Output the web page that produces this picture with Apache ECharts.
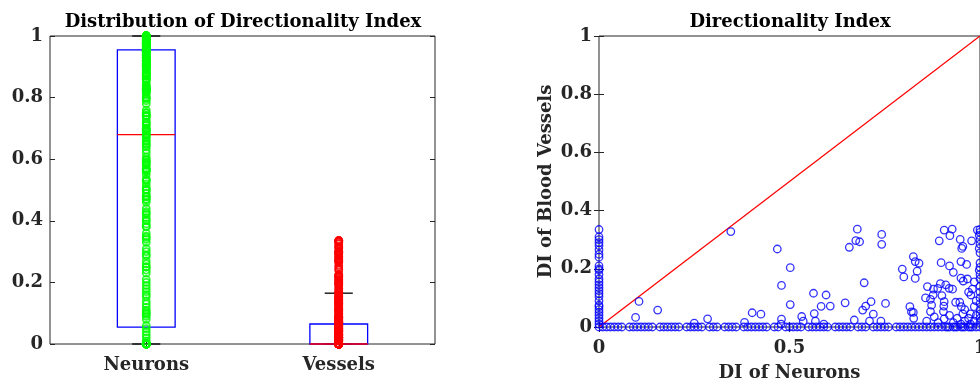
<!DOCTYPE html>
<html>
<head>
<meta charset="utf-8">
<script src="https://cdn.jsdelivr.net/npm/echarts@6/dist/echarts.min.js"></script>
<style>
  html, body { margin: 0; padding: 0; background: #ffffff; }
  #chart { width: 980px; height: 383px; }
</style>
</head>
<body>
<div id="chart"></div>
<script>
// ---------------- DATA ----------------
const categories = ['Neurons', 'Vessels'];

// Box statistics
const boxQ1        = [0.055, 0.0];
const boxMedian    = [0.68, 0.0];
const boxQ3        = [0.955, 0.065];
const whiskerLow   = [0.0, 0.0];
const whiskerHigh  = [1.0, 0.165];

// Vessel DI of cells whose neuron DI is 0 (points on the left edge)
const zeroNeuronVessels = [0.335, 0.31, 0.30, 0.29, 0.28, 0.265, 0.25, 0.24, 0.21, 0.20, 0.195,
  0.18, 0.165, 0.155, 0.145, 0.135, 0.125, 0.115, 0.105, 0.09, 0.075, 0.07, 0.06, 0.05, 0.04,
  0.03, 0.02, 0.01, 0.0];

// Neuron DI of cells whose vessel DI is 0 (points along the bottom edge)
const zeroVesselNeurons = [0.01, 0.02, 0.03, 0.04, 0.05, 0.06, 0.08, 0.09, 0.10, 0.11, 0.12, 0.13,
  0.14, 0.16, 0.17, 0.18, 0.19, 0.20, 0.21, 0.23, 0.24, 0.25, 0.26, 0.27, 0.29, 0.30, 0.31, 0.33,
  0.34, 0.35, 0.36, 0.38, 0.39, 0.40, 0.41, 0.42, 0.43, 0.44, 0.46, 0.47, 0.49, 0.50, 0.51, 0.52,
  0.53, 0.55, 0.56, 0.57, 0.58, 0.59, 0.60, 0.62, 0.63, 0.64, 0.65, 0.66, 0.68, 0.69, 0.70, 0.72,
  0.73, 0.74, 0.75, 0.76, 0.78, 0.79, 0.80, 0.81, 0.82, 0.83, 0.84, 0.85, 0.86, 0.87, 0.88, 0.89,
  0.90, 0.91, 0.915, 0.92, 0.93, 0.935, 0.94, 0.95, 0.955, 0.96, 0.97, 0.975, 0.98, 0.99, 1.0];

// Other paired points (neuron DI, vessel DI)
const pairNeuron = [0.105, 0.154, 0.096, 0.285, 0.25, 0.346, 0.382, 0.402, 0.425, 0.468, 0.502,
  0.479, 0.502, 0.479, 0.478, 0.532, 0.536, 0.563, 0.596, 0.565, 0.583, 0.607, 0.568, 0.59, 0.646,
  0.657, 0.674, 0.678, 0.684, 0.742, 0.742, 0.696, 0.692, 0.70, 0.714, 0.752, 0.72, 0.67, 0.71,
  0.74, 0.796, 0.80, 0.825, 0.83, 0.84, 0.835, 0.83, 0.816, 0.82, 0.825, 0.826, 0.862, 0.857,
  0.87, 0.878, 0.877, 0.873, 0.87, 0.88, 0.896, 0.893, 0.898, 0.906, 0.921, 0.927, 0.948, 0.952,
  0.955, 0.978, 0.993, 0.92, 0.93, 0.95, 0.965, 0.95, 0.956, 0.967, 0.889, 0.91, 0.919, 0.928,
  0.90, 0.906, 0.905, 0.936, 0.947, 0.951, 0.976, 0.904, 0.92, 0.955, 0.975, 0.906, 0.94, 0.97,
  0.96, 0.985, 0.99, 0.98, 0.985, 0.97, 0.96, 0.985, 0.93, 0.89, 0.86, 0.95, 0.975, 0.99,
  1.0, 1.0, 0.998, 1.0, 1.0, 0.998, 1.0, 1.0, 1.0, 0.998, 1.0, 1.0, 1.0, 1.0, 1.0, 1.0, 1.0,
  1.0, 1.0, 1.0];
const pairVessel = [0.088, 0.058, 0.033, 0.028, 0.013, 0.328, 0.016, 0.049, 0.044, 0.268, 0.204,
  0.143, 0.077, 0.027, 0.01, 0.036, 0.02, 0.116, 0.11, 0.046, 0.071, 0.072, 0.02, 0.01, 0.083,
  0.274, 0.297, 0.336, 0.293, 0.318, 0.284, 0.152, 0.058, 0.072, 0.087, 0.081, 0.044, 0.024, 0.02,
  0.02, 0.199, 0.172, 0.242, 0.225, 0.219, 0.192, 0.167, 0.07, 0.052, 0.05, 0.03, 0.139, 0.10,
  0.095, 0.13, 0.11, 0.075, 0.053, 0.035, 0.149, 0.296, 0.221, 0.333, 0.314, 0.336, 0.301, 0.27,
  0.277, 0.296, 0.333, 0.21, 0.188, 0.225, 0.215, 0.168, 0.158, 0.165, 0.133, 0.145, 0.133, 0.13,
  0.108, 0.087, 0.072, 0.085, 0.085, 0.07, 0.11, 0.053, 0.04, 0.045, 0.045, 0.028, 0.03, 0.03,
  0.06, 0.07, 0.09, 0.13, 0.155, 0.12, 0.02, 0.02, 0.015, 0.015, 0.02, 0.01, 0.01, 0.04,
  0.335, 0.325, 0.315, 0.30, 0.285, 0.27, 0.255, 0.22, 0.205, 0.195, 0.18, 0.165, 0.14, 0.12,
  0.10, 0.08, 0.06, 0.045, 0.03, 0.015];

// Identity line
const diagX = [0, 1];
const diagY = [0, 1];

// ---------------- BUILD ----------------
const neuronDI = [];
const vesselDI = [];
zeroNeuronVessels.forEach(v => { neuronDI.push(0); vesselDI.push(v); });
zeroVesselNeurons.forEach(n => { neuronDI.push(n); vesselDI.push(0); });
pairNeuron.forEach((n, i) => { neuronDI.push(n); vesselDI.push(pairVessel[i]); });

const boxData = categories.map((c, i) =>
  [i, boxQ1[i], boxMedian[i], boxQ3[i], whiskerLow[i], whiskerHigh[i]]);

const FONT = '"DejaVu Serif", "Liberation Serif", serif';
const INK = '#262626';
const labelStyle = { fontFamily: FONT, fontWeight: 'bold', fontSize: 18, color: INK };

const chart = echarts.init(document.getElementById('chart'), null, { renderer: 'canvas' });

const option = {
  animation: false,
  backgroundColor: '#ffffff',
  textStyle: { fontFamily: FONT },
  graphic: [
    { type: 'text', x: 243, y: 22, z: 100,
      style: { text: 'Distribution of Directionality Index', font: 'bold 18px ' + FONT,
               fill: '#000000', align: 'center', verticalAlign: 'middle' } },
    { type: 'text', x: 790, y: 22, z: 100,
      style: { text: 'Directionality Index', font: 'bold 18px ' + FONT,
               fill: '#000000', align: 'center', verticalAlign: 'middle' } }
  ],
  grid: [
    { left: 50, top: 36, width: 385, height: 308, show: true, borderColor: INK, borderWidth: 1,
      backgroundColor: 'transparent', containLabel: false, outerBoundsMode: 'none' },
    { left: 599, top: 36, width: 381, height: 291, show: true, borderColor: INK, borderWidth: 1,
      backgroundColor: 'transparent', containLabel: false, outerBoundsMode: 'none' }
  ],
  xAxis: [
    { type: 'category', gridIndex: 0, position: 'bottom', data: categories,
      axisLine: { show: false },
      axisTick: { show: true, inside: true, alignWithLabel: true, length: 5, lineStyle: { color: INK } },
      axisLabel: Object.assign({ margin: 12 }, labelStyle),
      splitLine: { show: false } },
    { type: 'category', gridIndex: 0, position: 'top', data: categories,
      axisLine: { show: false },
      axisTick: { show: true, inside: true, alignWithLabel: true, length: 5, lineStyle: { color: INK } },
      axisLabel: { show: false }, splitLine: { show: false } },
    { type: 'value', gridIndex: 1, position: 'bottom', min: 0, max: 1, interval: 0.5,
      name: 'DI of Neurons', nameLocation: 'middle', nameGap: 37,
      nameTextStyle: labelStyle,
      axisLine: { show: false },
      axisTick: { show: true, inside: true, length: 5, lineStyle: { color: INK } },
      axisLabel: Object.assign({ margin: 12, hideOverlap: false }, labelStyle),
      splitLine: { show: false } },
    { type: 'value', gridIndex: 1, position: 'top', min: 0, max: 1, interval: 0.5,
      axisLine: { show: false },
      axisTick: { show: true, inside: true, length: 5, lineStyle: { color: INK } },
      axisLabel: { show: false }, splitLine: { show: false } }
  ],
  yAxis: [
    { type: 'value', gridIndex: 0, position: 'left', min: 0, max: 1, interval: 0.2,
      axisLine: { show: false },
      axisTick: { show: true, inside: true, length: 5, lineStyle: { color: INK } },
      axisLabel: Object.assign({ margin: 7 }, labelStyle),
      splitLine: { show: false } },
    { type: 'value', gridIndex: 0, position: 'right', min: 0, max: 1, interval: 0.2,
      axisLine: { show: false },
      axisTick: { show: true, inside: true, length: 5, lineStyle: { color: INK } },
      axisLabel: { show: false }, splitLine: { show: false } },
    { type: 'value', gridIndex: 1, position: 'left', min: 0, max: 1, interval: 0.2,
      name: 'DI of Blood Vessels', nameLocation: 'middle', nameGap: 44, nameRotate: 90,
      nameTextStyle: labelStyle,
      axisLine: { show: false },
      axisTick: { show: true, inside: true, length: 5, lineStyle: { color: INK } },
      axisLabel: Object.assign({ margin: 7 }, labelStyle),
      splitLine: { show: false } },
    { type: 'value', gridIndex: 1, position: 'right', min: 0, max: 1, interval: 0.2,
      axisLine: { show: false },
      axisTick: { show: true, inside: true, length: 5, lineStyle: { color: INK } },
      axisLabel: { show: false }, splitLine: { show: false } }
  ],
  series: [
    {
      type: 'custom', xAxisIndex: 0, yAxisIndex: 0, z: 2,
      data: boxData,
      renderItem: function (params, api) {
        const idx = api.value(0);
        const band = api.size([1, 0])[0];
        const half = band * 0.15;
        const capHalf = band * 0.073;
        const pQ1 = api.coord([idx, api.value(1)]);
        const pMed = api.coord([idx, api.value(2)]);
        const pQ3 = api.coord([idx, api.value(3)]);
        const pLo = api.coord([idx, api.value(4)]);
        const pHi = api.coord([idx, api.value(5)]);
        const cx = pQ1[0];
        return {
          type: 'group',
          children: [
            { type: 'line', shape: { x1: cx - capHalf, y1: pLo[1], x2: cx + capHalf, y2: pLo[1] },
              style: { stroke: '#000000', lineWidth: 1.3 } },
            { type: 'line', shape: { x1: cx - capHalf, y1: pHi[1], x2: cx + capHalf, y2: pHi[1] },
              style: { stroke: '#000000', lineWidth: 1.3 } },
            { type: 'rect', shape: { x: cx - half, y: pQ3[1], width: 2 * half, height: pQ1[1] - pQ3[1] },
              style: { stroke: '#0000ff', fill: 'none', lineWidth: 1.3 } },
            { type: 'line', shape: { x1: cx - half, y1: pMed[1], x2: cx + half, y2: pMed[1] },
              style: { stroke: '#ff0000', lineWidth: 1.3 } }
          ]
        };
      }
    },
    {
      type: 'scatter', xAxisIndex: 0, yAxisIndex: 0, z: 5, clip: false,
      symbol: 'circle', symbolSize: 7,
      itemStyle: { color: 'rgba(0,0,0,0)', borderColor: '#00ff00', borderWidth: 1.8 },
      data: neuronDI.map(v => [0, v])
    },
    {
      type: 'scatter', xAxisIndex: 0, yAxisIndex: 0, z: 5, clip: false,
      symbol: 'circle', symbolSize: 7,
      itemStyle: { color: 'rgba(0,0,0,0)', borderColor: '#ff0000', borderWidth: 1.8 },
      data: vesselDI.map(v => [1, v])
    },
    {
      type: 'line', xAxisIndex: 2, yAxisIndex: 2, z: 3,
      data: diagX.map((x, i) => [x, diagY[i]]),
      symbol: 'none', lineStyle: { color: '#ff0000', width: 1.3 }
    },
    {
      type: 'scatter', xAxisIndex: 2, yAxisIndex: 2, z: 5, clip: false,
      symbol: 'circle', symbolSize: 7.5,
      itemStyle: { color: 'rgba(0,0,0,0)', borderColor: '#0000ff', borderWidth: 1.3 },
      data: neuronDI.map((n, i) => [n, vesselDI[i]])
    }
  ]
};
chart.setOption(option);
</script>
</body>
</html>
